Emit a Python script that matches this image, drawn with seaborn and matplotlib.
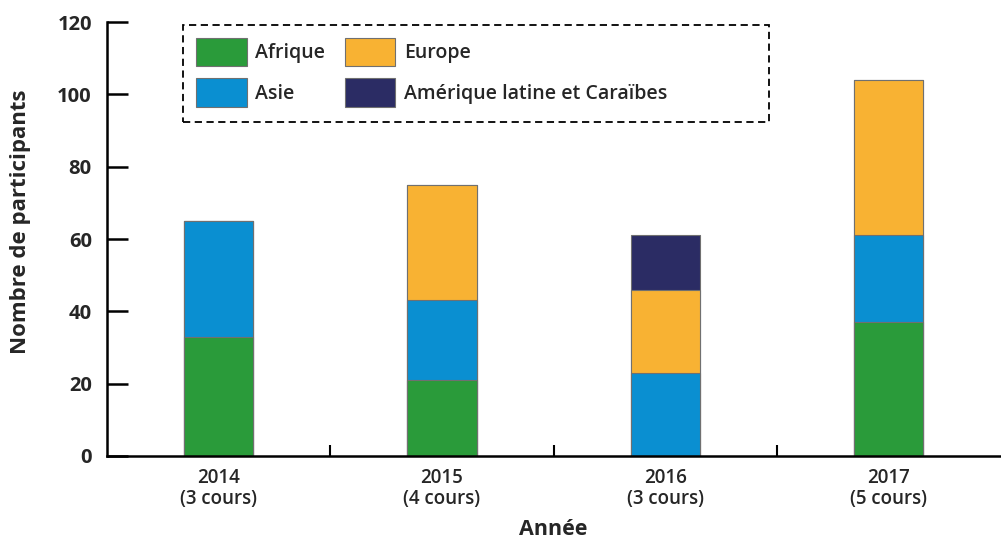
import pandas as pd
import seaborn as sns
import matplotlib.pyplot as plt
from matplotlib.patches import Rectangle
from matplotlib.ticker import FixedLocator

# Data
years = ['2014', '2015', '2016', '2017']
courses = ['(3 cours)', '(4 cours)', '(3 cours)', '(5 cours)']
regions = ['Afrique', 'Asie', 'Europe', 'Amérique latine et Caraïbes']
afrique = [33, 21, 0, 37]
asie = [32, 22, 23, 24]
europe = [0, 32, 23, 43]
amerique = [0, 0, 15, 0]

colors = {'Afrique': '#2a9b3a', 'Asie': '#0a8fd1',
          'Europe': '#f8b233', 'Amérique latine et Caraïbes': '#2b2c64'}

df = pd.DataFrame({'year': years, 'Afrique': afrique, 'Asie': asie,
                   'Europe': europe, 'Amérique latine et Caraïbes': amerique})
# cumulative tops for stacking
cum = df[regions].cumsum(axis=1)
cum['year'] = df['year']

sns.set_style('white')
plt.rcParams['font.family'] = ['Open Sans', 'DejaVu Sans']

fig = plt.figure(figsize=(10.01, 5.42), dpi=100)
ax = fig.add_axes([0.107, 0.159, 0.892, 0.8])

# draw from the top layer down so lower segments cover the upper ones
for reg in reversed(regions):
    sns.barplot(data=cum, x='year', y=reg, order=years, color=colors[reg],
                width=0.31, edgecolor='#707070', linewidth=0.8,
                saturation=1, ax=ax)

ax.set_xlim(-0.5, 3.5)
ax.set_ylim(0, 120)
ax.set_yticks(range(0, 121, 20))
ax.set_yticklabels([str(v) for v in range(0, 121, 20)],
                   fontsize=14.5, fontweight='bold')
ax.set_xticks(range(len(years)))
ax.set_xticklabels([f'{y}\n{c}' for y, c in zip(years, courses)],
                   fontsize=13.5, fontweight='semibold', linespacing=1.05)
ax.xaxis.set_minor_locator(FixedLocator([0.5, 1.5, 2.5]))
ax.tick_params(axis='x', which='major', bottom=True, length=0, pad=9)
ax.tick_params(axis='x', which='minor', bottom=True, direction='in',
               length=8, width=1.5, color='black')
ax.tick_params(axis='y', left=True, direction='in', length=15, width=1.8,
               color='black', pad=11)

ax.set_xlabel('Année', fontsize=15.5, fontweight='bold', labelpad=7)
ax.set_ylabel('Nombre de participants', fontsize=16, fontweight='bold')
ax.yaxis.set_label_coords(-0.085, 0.54)

for side in ['top', 'right']:
    ax.spines[side].set_visible(False)
for side in ['left', 'bottom']:
    ax.spines[side].set_color('black')
    ax.spines[side].set_linewidth(1.8)

# dashed legend box
box = Rectangle((0.085, 0.77), 0.656, 0.223, transform=ax.transAxes,
                fill=False, edgecolor='black', linewidth=1.3,
                linestyle=(0, (4, 2.5)), zorder=5)
ax.add_patch(box)

handles = [Rectangle((0, 0), 1, 1, facecolor=colors[r],
                     edgecolor='#707070', linewidth=0.8) for r in regions]
leg = ax.legend(handles, regions, ncol=2, loc='upper left',
                bbox_to_anchor=(0.08, 1.005),
                prop={'size': 14, 'weight': 'semibold'},
                handlelength=2.6, handleheight=1.9, handletextpad=0.45,
                columnspacing=1.0, labelspacing=0.6, borderpad=0.4,
                frameon=False)

fig.savefig('out.png', dpi=100)
